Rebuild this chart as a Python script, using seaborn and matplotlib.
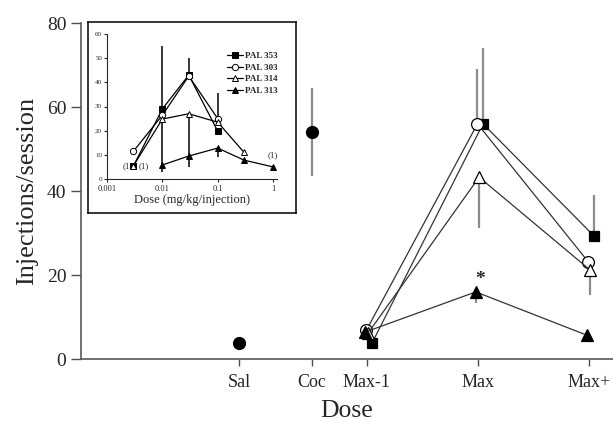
import numpy as np
import matplotlib
matplotlib.use("Agg")
import matplotlib.pyplot as plt
import seaborn as sns

# main panel data
main_doses = ["Max-1", "Max", "Max+"]
pal353 = [3.8, 56.0, 29.3]
pal353_up = [0, 18.0, 9.7]
pal303 = [6.9, 56.0, 23.1]
pal303_up = [0, 13.0, 0]
pal314 = [6.2, 43.3, 21.2]
pal314_down = [0, 12.0, 6.0]
pal313 = [6.4, 16.0, 5.7]
pal313_down = [0, 2.7, 0]
sal_mean, sal_err = 3.8, 1.0
coc_mean, coc_err = 54.0, 10.5

# inset data
inset_doses = [0.003, 0.01, 0.03, 0.1, 0.3, 1.0]
in353 = [5.4, 29.0, 43.0, 19.8, np.nan, np.nan]
in353_lo = [0, 26.0, 0, 0, 0, 0]
in353_hi = [0, 26.0, 7.0, 0, 0, 0]
in303 = [11.5, 26.4, 42.6, 25.0, np.nan, np.nan]
in303_hi = [0, 0, 0, 10.5, 0, 0]
in314 = [5.5, 24.8, 27.0, 23.5, 11.0, np.nan]
in314_lo = [0, 0, 13.0, 0, 0, 0]
in313 = [np.nan, 5.8, 9.5, 12.8, 7.8, 5.0]
in313_lo = [0, 0, 4.5, 3.8, 0, 0]
in313_hi = [0, 0, 4.5, 0, 0, 0]

sns.set_style("ticks")
plt.rcParams['font.family'] = ['Liberation Serif', 'DejaVu Serif']

fig = plt.figure(figsize=(6.13, 4.26), dpi=100)
ax = fig.add_axes([0.132, 0.157, 0.868, 0.789])

# x positions of the categories
pos = {"Sal": -1.153, "Coc": -0.495, "Max-1": 0.0, "Max": 1.0, "Max+": 2.0}
xm = np.array([pos[d] for d in main_doses])

bar_kw = dict(fmt="none", ecolor="0.55", elinewidth=1.6, capsize=0, zorder=1)

series = [
    (pal353, [0, 0, 0], pal353_up, 0.045, "s", "black", 7.5),
    (pal303, [0, 0, 0], pal303_up, -0.005, "o", "white", 8.5),
    (pal314, pal314_down, [0, 0, 0], 0.01, "^", "white", 9),
    (pal313, pal313_down, [0, 0, 0], -0.02, "^", "black", 9),
]
for vals, lo, hi, off, mk, fc, ms in series:
    ax.errorbar(xm + off, vals, yerr=[lo, hi], **bar_kw)
for vals, lo, hi, off, mk, fc, ms in series:
    sns.lineplot(x=xm + off, y=vals, ax=ax, color="0.2", linewidth=0.9,
                 marker=mk, markersize=ms, markerfacecolor=fc,
                 markeredgecolor="black", markeredgewidth=0.9, zorder=3)

ax.errorbar([pos["Sal"]], [sal_mean], yerr=[sal_err], **bar_kw)
ax.errorbar([pos["Coc"]], [coc_mean], yerr=[coc_err], **bar_kw)
ax.plot([pos["Sal"], pos["Coc"]], [sal_mean, coc_mean], "o", color="black",
        markersize=8.5, linestyle="none", zorder=3)

ax.text(pos["Max"] + 0.02, 17.0, "*", ha="center", va="bottom",
        fontsize=14, fontweight="bold")

ax.set_xlim(-2.577, 2.216)
ax.set_ylim(0, 80)
ax.set_yticks([0, 20, 40, 60, 80])
ax.set_xticks(list(pos.values()))
ax.set_xticklabels(list(pos.keys()))
ax.tick_params(axis="y", length=7, width=1, labelsize=14, color="0.3")
ax.tick_params(axis="x", length=5, width=1, labelsize=13, color="0.3", pad=6)
ax.set_xlabel("Dose", fontsize=18.5, labelpad=6)
ax.set_ylabel("Injections/session", fontsize=19, labelpad=6)
sns.despine(ax=ax)
ax.spines["left"].set_color("0.35")
ax.spines["bottom"].set_color("0.35")
ax.spines["left"].set_linewidth(1.2)
ax.spines["bottom"].set_linewidth(1.2)

# inset frame
frame = fig.add_axes([0.1436, 0.5, 0.3393, 0.4484])
frame.set_xticks([])
frame.set_yticks([])
frame.patch.set_facecolor("white")
for s in frame.spines.values():
    s.set_color("black")
    s.set_linewidth(1.1)

ins = fig.add_axes([0.1746, 0.5798, 0.2773, 0.3404])
ins.patch.set_alpha(0)
xd = np.array(inset_doses)
zeros = [0] * 6
in_series = [
    (in353, in353_lo, in353_hi, "s", "black", "PAL 353"),
    (in303, zeros, in303_hi, "o", "white", "PAL 303"),
    (in314, in314_lo, zeros, "^", "white", "PAL 314"),
    (in313, in313_lo, in313_hi, "^", "black", "PAL 313"),
]
for vals, lo, hi, mk, fc, lab in in_series:
    ins.errorbar(xd, vals, yerr=[lo, hi], fmt="none", ecolor="black",
                 elinewidth=1.1, capsize=0, zorder=1)
for vals, lo, hi, mk, fc, lab in in_series:
    ins.plot(xd, vals, color="black", linewidth=0.9, marker=mk, markersize=4.5,
             markerfacecolor=fc, markeredgecolor="black", markeredgewidth=0.7,
             label=lab, zorder=3)

ins.text(0.00255, 5.5, "(1", ha="right", va="center", fontsize=6.5)
ins.text(0.0037, 5.5, "(1)", ha="left", va="center", fontsize=6.5)
ins.text(0.98, 9.8, "(1)", ha="center", va="center", fontsize=6.5)

ins.set_xscale("log")
ins.set_xlim(0.001, 1.18)
ins.set_ylim(0, 60)
ins.set_xticks([0.001, 0.01, 0.1, 1])
ins.set_xticklabels(["0.001", "0.01", "0.1", "1"])
ins.minorticks_off()
ins.set_yticks(range(0, 61, 10))
ins.tick_params(axis="x", length=2.5, width=0.8, labelsize=6, pad=1.5)
ins.tick_params(axis="y", length=2.5, width=0.8, labelsize=5, pad=1)
ins.set_xlabel("Dose (mg/kg/injection)", fontsize=9, labelpad=1)
sns.despine(ax=ins)
ins.legend(loc="upper right", bbox_to_anchor=(1.04, 0.92), frameon=False,
           prop={"size": 6.5, "weight": "bold"}, handlelength=1.8,
           handletextpad=0.2, labelspacing=0.35, borderpad=0.2)

fig.savefig("out.png", dpi=100)
